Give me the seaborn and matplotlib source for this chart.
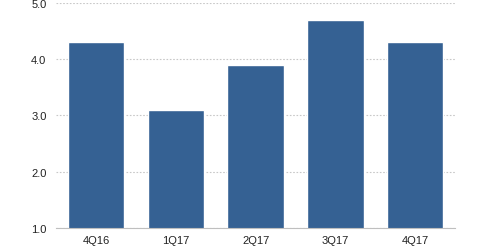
import matplotlib
matplotlib.use("Agg")
import matplotlib.pyplot as plt
import seaborn as sns
import pandas as pd

categories = ["4Q16", "1Q17", "2Q17", "3Q17", "4Q17"]
values = [4.3, 3.1, 3.9, 4.7, 4.3]

sns.set_style("white")
plt.rcParams['font.family'] = ['Liberation Sans', 'DejaVu Sans']

df = pd.DataFrame({"q": categories, "v": values})
fig = plt.figure(figsize=(4.8, 2.51), dpi=100)
ax = fig.add_axes([0.117, 0.088, 0.831, 0.896])
sns.barplot(data=df, x="q", y="v", color="#356193", saturation=1, width=0.71, ax=ax)
ax.set_ylim(1.0, 5.0)
ax.set_xlim(-0.5, 4.5)
ax.set_yticks([1.0, 2.0, 3.0, 4.0, 5.0])
ax.set_yticklabels(["1.0", "2.0", "3.0", "4.0", "5.0"])
ax.yaxis.grid(True, linestyle=(0, (1.5, 1.5)), color="#c8c8c8", linewidth=0.8)
ax.set_axisbelow(True)
for s in ["top", "right", "left"]:
    ax.spines[s].set_visible(False)
ax.spines["bottom"].set_color("#bfbfbf")
ax.spines["bottom"].set_linewidth(0.8)
ax.set_xlabel("")
ax.set_ylabel("")
ax.tick_params(axis="y", length=0, labelsize=8, labelcolor="#222222", pad=7)
ax.tick_params(axis="x", length=0, labelsize=8, labelcolor="#222222", pad=5)
# minor ticks at category boundaries
ax.set_xticks([-0.5, 0.5, 1.5, 2.5, 3.5, 4.5], minor=True)
ax.tick_params(axis="x", which="minor", length=3, color="#bfbfbf", width=0.8)
fig.savefig("out.png", dpi=100)
